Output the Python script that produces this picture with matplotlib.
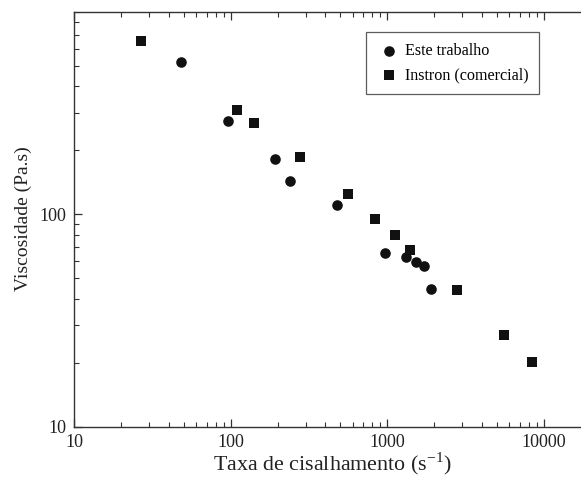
import matplotlib
matplotlib.use("Agg")
import matplotlib.pyplot as plt
from matplotlib.ticker import LogLocator, NullFormatter, FixedLocator, FixedFormatter

# Este trabalho
shear_este = [48, 95.7, 191, 239, 478, 964, 1319, 1521, 1718, 1914]
visc_este = [520, 275, 181, 144, 111, 65.8, 63, 59.7, 56.9, 44.3]

# Instron (comercial)
shear_instron = [26.5, 110, 140, 276, 557, 828, 1117, 1393, 2780, 5546, 8340]
visc_instron = [653, 310, 268, 185, 124, 95.4, 79.6, 68.2, 44, 27.0, 20.1]

x_ticks = [10, 100, 1000, 10000]
x_tick_labels = ["10", "100", "1000", "10000"]
y_ticks = [10, 100]
y_tick_labels = ["10", "100"]

plt.rcParams["font.family"] = ["Liberation Serif", "DejaVu Serif"]
plt.rcParams["mathtext.fontset"] = "stix"

fig = plt.figure(figsize=(5.81, 4.79), dpi=100)
W, H = 581, 479
left, right, top, bottom = 74.3, 591, 11.5, 426.7
ax = fig.add_axes([left / W, 1 - bottom / H, (right - left) / W, (bottom - top) / H])

ax.scatter(shear_este, visc_este, marker="o", s=58, color="#111111",
           label="Este trabalho", zorder=3, linewidths=0)
ax.scatter(shear_instron, visc_instron, marker="s", s=52, color="#111111",
           label="Instron (comercial)", zorder=3, linewidths=0)

ax.set_xscale("log")
ax.set_yscale("log")
ax.set_xlim(10, 20000)
ax.set_ylim(10, 900)

ax.xaxis.set_major_locator(FixedLocator(x_ticks))
ax.xaxis.set_major_formatter(FixedFormatter(x_tick_labels))
ax.yaxis.set_major_locator(FixedLocator(y_ticks))
ax.yaxis.set_major_formatter(FixedFormatter(y_tick_labels))
ax.xaxis.set_minor_locator(LogLocator(base=10, subs=range(2, 10), numticks=20))
ax.yaxis.set_minor_locator(LogLocator(base=10, subs=range(2, 10), numticks=20))
ax.xaxis.set_minor_formatter(NullFormatter())
ax.yaxis.set_minor_formatter(NullFormatter())

ax.tick_params(which="both", direction="in", top=True, right=False, colors="#333333",
               labelcolor="#222222", labelsize=13)
ax.tick_params(axis="x", which="major", pad=5)
ax.tick_params(axis="y", which="major", pad=6)
ax.tick_params(which="major", length=6, width=0.9)
ax.tick_params(which="minor", length=3.5, width=0.8)
for sp in ax.spines.values():
    sp.set_color("#333333")
    sp.set_linewidth(1.0)
ax.spines["right"].set_visible(False)

ax.set_xlabel("Taxa de cisalhamento (s$^{\\mathregular{-1}}$)", fontsize=15.8,
              color="#222222", labelpad=0)
ax.set_ylabel("Viscosidade (Pa.s)", fontsize=14, color="#222222", labelpad=5)

leg = ax.legend(loc="upper left", bbox_to_anchor=((365.7 - left) / (right - left), 1 - (32.3 - top) / (bottom - top)),
                frameon=True, fancybox=False, fontsize=11.6, handletextpad=0.15,
                borderpad=0.65, labelspacing=0.55, handlelength=1.65, borderaxespad=0)
leg.get_frame().set_edgecolor("#333333")
leg.get_frame().set_linewidth(0.9)

fig.savefig("out.png", dpi=100)
